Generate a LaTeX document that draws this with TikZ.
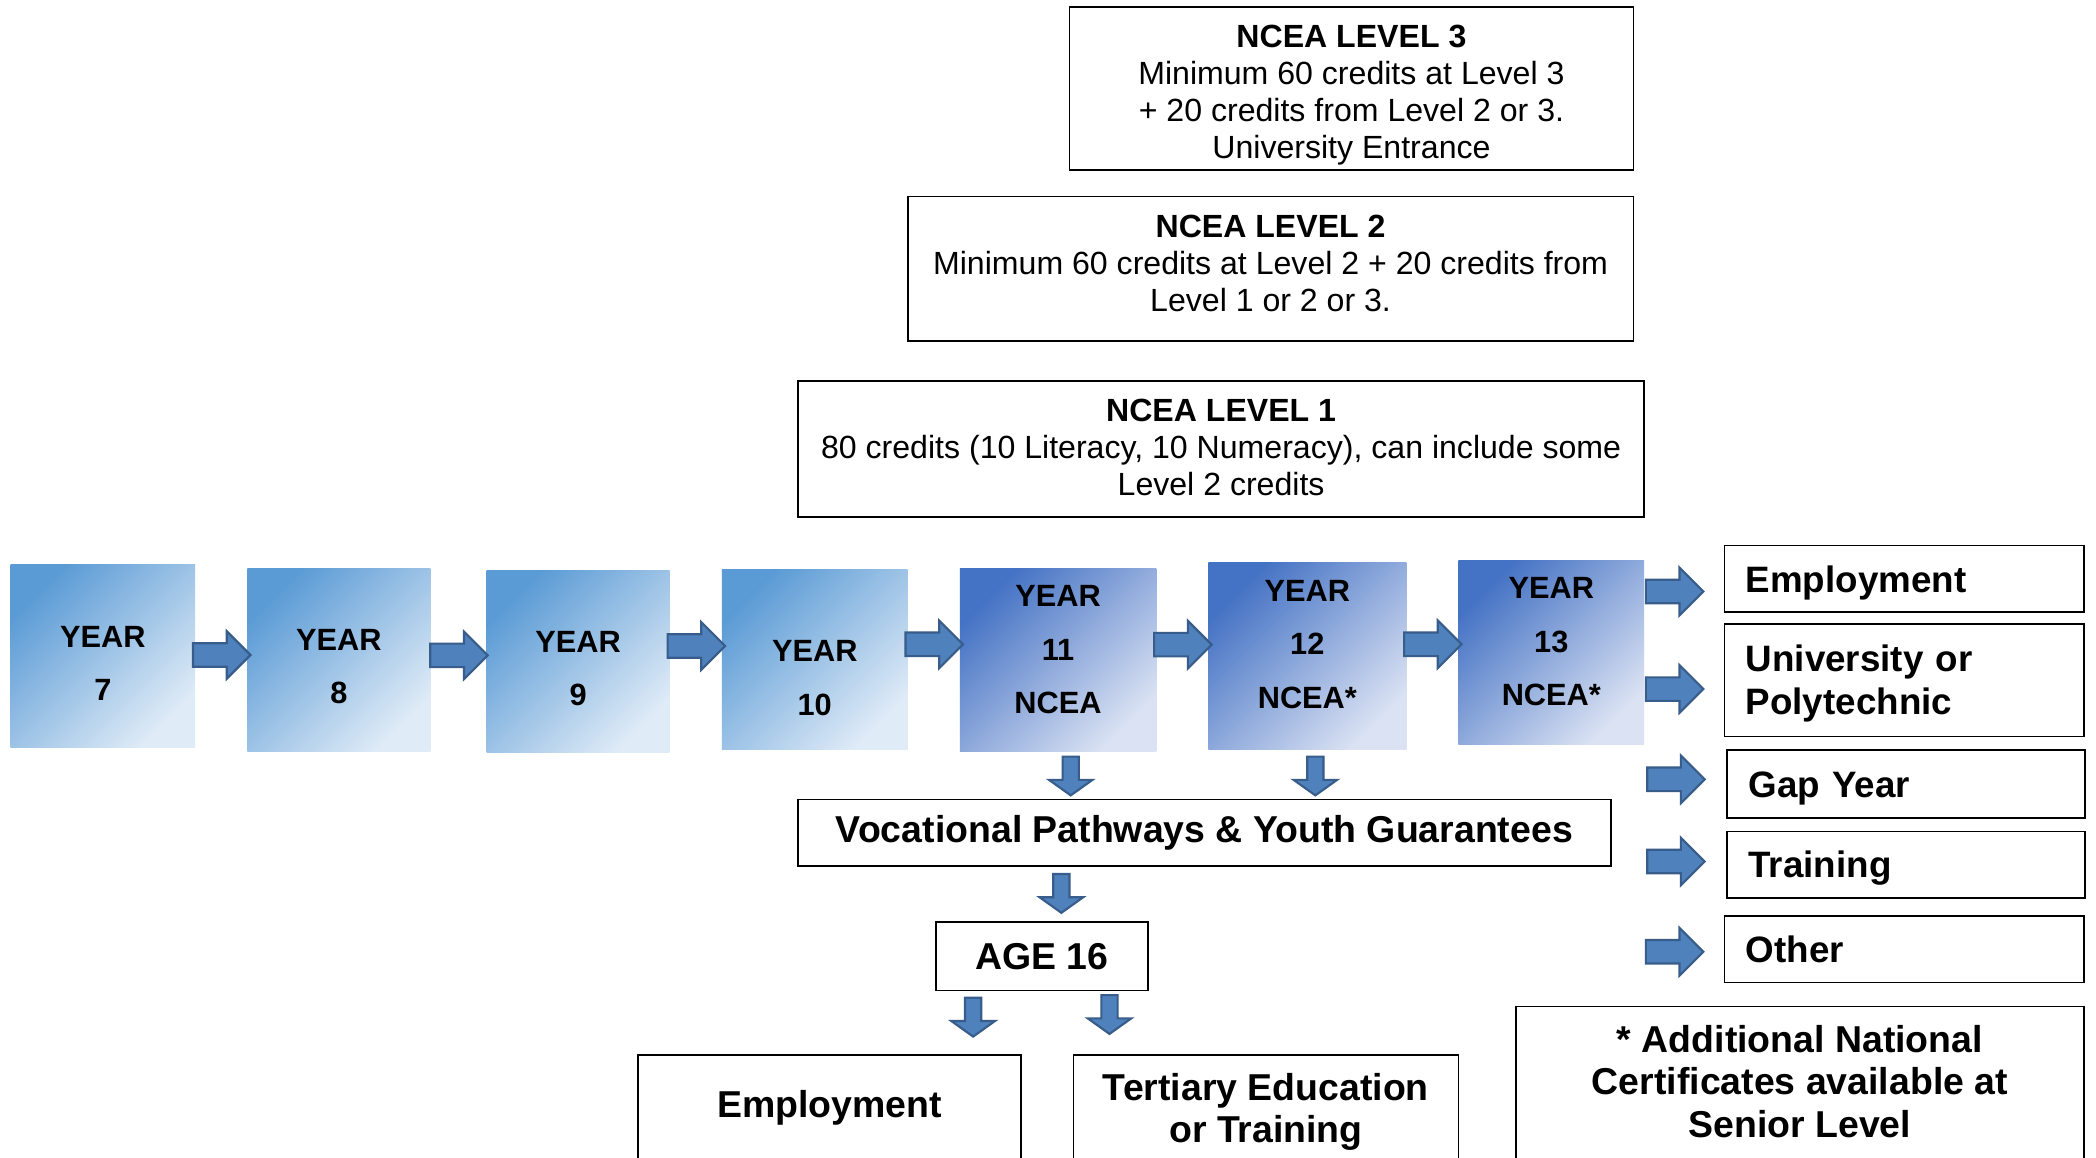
\documentclass[tikz,border=0pt]{standalone}
\usepackage{fontspec}
\setmainfont{Liberation Sans}
\usepackage{xcolor}
\usepackage{tikz}
\usetikzlibrary{shapes.arrows, positioning, calc}

\definecolor{juniorblue}{RGB}{91,155,213}
\definecolor{juniorpale}{RGB}{223,235,247}
\definecolor{seniorblue}{RGB}{68,114,196}
\definecolor{seniorpale}{RGB}{218,226,243}
\definecolor{arrowfill}{RGB}{79,129,189}
\definecolor{arrowedge}{RGB}{56,93,138}

% struts that push the text of a box down (taller first line) or up (deeper last line)
\newcommand{\padtop}[1]{\rule{0pt}{#1}}
\newcommand{\padbot}[1]{\rule[-#1]{0pt}{#1}}

\tikzstyle{levelbox} = [rectangle, draw=black, line width=1.3pt, align=center, inner sep=0pt, font=\fontsize{24}{27.5}\selectfont]
\tikzstyle{junior} = [rectangle, inner sep=0pt, top color=juniorblue, bottom color=juniorpale, shading angle=45, align=center, font=\bfseries\fontsize{23}{40}\selectfont]
\tikzstyle{senior} = [junior, top color=seniorblue, bottom color=seniorpale, shading angle=45]
\tikzstyle{outcome} = [rectangle, draw=black, line width=1.3pt, minimum height=50pt, text width=237pt, inner xsep=16pt, inner ysep=0pt, align=left, font=\bfseries\fontsize{27.5}{32}\selectfont]
\tikzstyle{pathbox} = [rectangle, draw=black, line width=1.3pt, align=center, inner sep=0pt, font=\bfseries\fontsize{28}{32}\selectfont]
\tikzstyle{rarrow} = [single arrow, draw=arrowedge, fill=arrowfill, line width=1.6pt, inner sep=8pt, minimum height=43pt, minimum width=34pt, single arrow head extend=9pt]
\tikzstyle{darrow} = [single arrow, draw=arrowedge, fill=arrowfill, line width=1.6pt, inner sep=5.25pt, minimum height=29pt, minimum width=31pt, single arrow head extend=10.25pt, single arrow tip angle=109, shape border rotate=270]

\begin{document}
\begin{tikzpicture}[x=1pt, y=-1pt]

\useasboundingbox[fill=white] (0,0) rectangle (1568,866);
\clip (0,0) rectangle (1568,866);

% NCEA levels
\node (lvl3) [levelbox, minimum width=422pt, minimum height=122pt] at (1011,66) {\padtop{27pt}\textbf{NCEA LEVEL 3}\\Minimum 60 credits at Level 3\\+ 20 credits from Level 2 or 3.\\University Entrance};
\node (lvl2) [levelbox, minimum width=543pt, minimum height=108pt] at (950.5,201) {\textbf{NCEA LEVEL 2}\\Minimum 60 credits at Level 2 + 20 credits from\\Level 1 or 2 or 3.\padbot{8pt}};
\node (lvl1) [levelbox, minimum width=633pt, minimum height=102pt] at (913.5,336) {\textbf{NCEA LEVEL 1}\\80 credits (10 Literacy, 10 Numeracy), can include some\\Level 2 credits\padbot{3pt}};

% School years
\node (y7) [junior, minimum width=138pt, minimum height=137pt] at (77,490.5) {\padtop{27.5pt}YEAR\\7};
\node (y8) [junior, minimum width=137pt, minimum height=137pt] at (253.5,493.5) {\padtop{26.5pt}YEAR\\8};
\node (y9) [junior, minimum width=137pt, minimum height=136pt] at (432.5,495) {\padtop{26.5pt}YEAR\\9};
\node (y10) [junior, minimum width=139pt, minimum height=135pt] at (609.5,493.5) {\padtop{43.5pt}YEAR\\10};
\node (y11) [senior, minimum width=147pt, minimum height=137pt] at (791.5,493.5) {YEAR\\11\\NCEA\padbot{15pt}};
\node (y12) [senior, minimum width=148pt, minimum height=140pt] at (978,491) {YEAR\\12\\NCEA*\padbot{18pt}};
\node (y13) [senior, minimum width=139pt, minimum height=138pt] at (1160.5,488) {YEAR\\13\\NCEA*\padbot{16pt}};

\node (a7) [rarrow, xshift=-4pt, yshift=2pt] at ($(y7.east)!.5!(y8.west)$) {};
\node (a8) [rarrow, xshift=-4pt, yshift=4pt] at ($(y8.east)!.5!(y9.west)$) {};
\node (a9) [rarrow, xshift=-4pt, yshift=11pt] at ($(y9.east)!.5!(y10.west)$) {};
\node (a10) [rarrow, xshift=-4pt, yshift=11.5pt] at ($(y10.east)!.5!(y11.west)$) {};
\node (a11) [rarrow, xshift=-4pt, yshift=10pt] at ($(y11.east)!.5!(y12.west)$) {};
\node (a12) [rarrow, xshift=-4pt, yshift=7.5pt] at ($(y12.east)!.5!(y13.west)$) {};

% Leaving school
\node (emp) [outcome] at (1424.5,433) {\padtop{26pt}Employment};
\node (uni) [outcome, minimum height=84pt] at (1424.5,509) {\padtop{24pt}University or\\Polytechnic};
\node (gap) [outcome, minimum height=51pt, text width=236pt] at (1426,586.5) {\padtop{26pt}Gap Year};
\node (train) [outcome, text width=236pt] at (1426,647) {\padtop{24pt}Training};
\node (other) [outcome] at (1424.5,710) {Other};

\node (toemp) [rarrow] at ([xshift=-41pt, yshift=-9.5pt]emp.west) {};
\node (touni) [rarrow] at ([xshift=-41pt, yshift=-6.5pt]uni.west) {};
\node (togap) [rarrow] at ([xshift=-42pt, yshift=3.5pt]gap.west) {};
\node (totrain) [rarrow] at ([xshift=-42pt, yshift=2.5pt]train.west) {};
\node (toother) [rarrow] at ([xshift=-41pt, yshift=-2pt]other.west) {};

% Vocational route
\node (voc) [pathbox, minimum width=608pt, minimum height=50pt] at (901,623) {Vocational Pathways \& Youth Guarantees};
\node (age) [pathbox, minimum width=159pt, minimum height=51pt] at (779.5,715.5) {AGE 16};
\node (work) [pathbox, minimum width=287pt, minimum height=80pt] at (620.5,829) {Employment};
\node (tert) [pathbox, minimum width=288pt, minimum height=80pt] at (947,829) {\padtop{26pt}Tertiary Education\\or Training};
\node (note) [pathbox, minimum width=425pt, minimum height=116pt] at (1346.5,811) {* Additional National\\Certificates available at\\Senior Level\padbot{4pt}};

\node (d11) [darrow, below=3pt of y11, xshift=9.5pt] {};
\node (d12) [darrow, below=4pt of y12, xshift=6pt] {};
\node (dvoc) [darrow, above=5.5pt of age, xshift=14.5pt] {};
\node (dwork) [darrow, below=4pt of age, xshift=-51.5pt] {};
\node (dtert) [darrow, below=2pt of age, xshift=50.5pt] {};

\end{tikzpicture}
\end{document}
